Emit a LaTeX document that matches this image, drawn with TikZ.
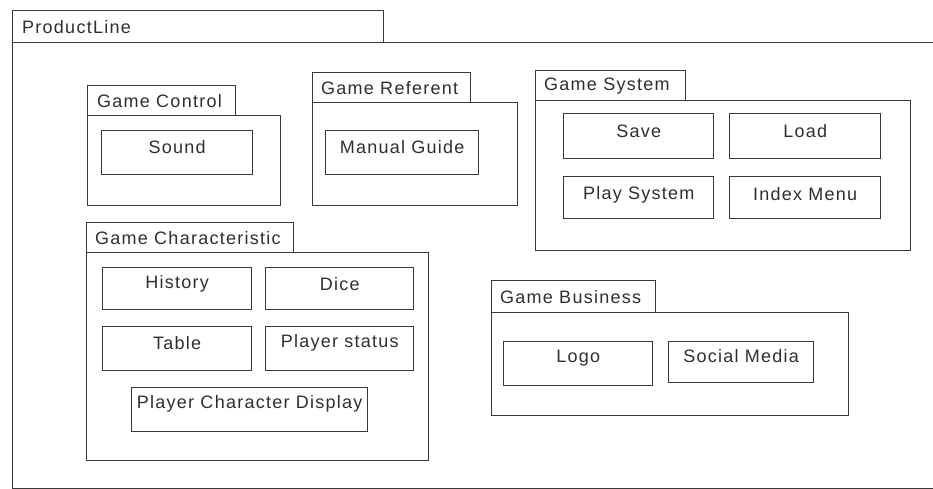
\documentclass[tikz,border=0pt]{standalone}
\usepackage{fontspec}
\setmainfont{Liberation Sans}[LetterSpace=7]
\begin{document}
\begin{tikzpicture}[x=1pt,y=-1pt,
  frame/.style={draw=black!78,line width=1.4pt,rectangle,inner sep=0pt,anchor=north west},
  txt/.style={text=black!82,inner sep=0pt,font=\fontsize{18}{21}\selectfont},
  tabtxt/.style={txt,anchor=west}]
\useasboundingbox (0,0) rectangle (933,489);
% ProductLine
\node[frame,minimum width=371,minimum height=32] (pltab) at (12,10) {};
\node[frame,minimum width=940,minimum height=446] (plbody) at (12,42) {};
\node[tabtxt] (pllab) at ([xshift=10]pltab.west) {ProductLine};
% Game Control
\node[frame,minimum width=148,minimum height=30] (gctab) at (87,85) {};
\node[frame,minimum width=193,minimum height=90] (gcbody) at (87,115) {};
\node[tabtxt] (gclab) at ([xshift=10]gctab.west) {Game Control};
\node[frame,minimum width=151,minimum height=44] (sound) at (101,130) {};
\node[txt] (soundt) at ([yshift=6]sound.center) {Sound};
% Game Referent
\node[frame,minimum width=158,minimum height=30] (grtab) at (312,72) {};
\node[frame,minimum width=205,minimum height=103] (grbody) at (312,102) {};
\node[tabtxt] (grlab) at ([xshift=9]grtab.west) {Game Referent};
\node[frame,minimum width=153,minimum height=44] (manual) at (325,130) {};
\node[txt] (manualt) at ([yshift=6]manual.center) {Manual Guide};
% Game System
\node[frame,minimum width=150,minimum height=30] (gstab) at (535,70) {};
\node[frame,minimum width=375,minimum height=150] (gsbody) at (535,100) {};
\node[tabtxt] (gslab) at ([xshift=9]gstab.west) {Game System};
\node[frame,minimum width=150,minimum height=45] (save) at (563,113) {};
\node[txt] (savet) at ([yshift=5]save.center) {Save};
\node[frame,minimum width=151,minimum height=45] (load) at (729,113) {};
\node[txt] (loadt) at ([yshift=5]load.center) {Load};
\node[frame,minimum width=150,minimum height=42] (play) at (563,176) {};
\node[txt] (playt) at ([yshift=3]play.center) {Play System};
\node[frame,minimum width=151,minimum height=42] (index) at (729,176) {};
\node[txt] (indext) at ([yshift=4]index.center) {Index Menu};
% Game Characteristic
\node[frame,minimum width=207,minimum height=30] (gchtab) at (86,222) {};
\node[frame,minimum width=342,minimum height=208] (gchbody) at (86,252) {};
\node[tabtxt] (gchlab) at ([xshift=9]gchtab.west) {Game Characteristic};
\node[frame,minimum width=149,minimum height=42] (history) at (102,267) {};
\node[txt] (historyt) at ([yshift=5]history.center) {History};
\node[frame,minimum width=148,minimum height=42] (dice) at (265,267) {};
\node[txt] (dicet) at ([yshift=5]dice.center) {Dice};
\node[frame,minimum width=149,minimum height=44] (table) at (102,326) {};
\node[txt] (tablet) at ([yshift=6]table.center) {Table};
\node[frame,minimum width=148,minimum height=44] (pstatus) at (265,326) {};
\node[txt] (pstatust) at ([yshift=6]pstatus.center) {Player status};
\node[frame,minimum width=236,minimum height=44] (pcd) at (131,387) {};
\node[txt] (pcdt) at ([yshift=6]pcd.center) {Player Character Display};
% Game Business
\node[frame,minimum width=164,minimum height=32] (gbtab) at (491,280) {};
\node[frame,minimum width=357,minimum height=103] (gbbody) at (491,312) {};
\node[tabtxt] (gblab) at ([xshift=9]gbtab.west) {Game Business};
\node[frame,minimum width=149,minimum height=44] (logo) at (503,341) {};
\node[txt] (logot) at ([yshift=6]logo.center) {Logo};
\node[frame,minimum width=145,minimum height=41] (social) at (668,341) {};
\node[txt] (socialt) at ([yshift=6]social.center) {Social Media};
\end{tikzpicture}
\end{document}
